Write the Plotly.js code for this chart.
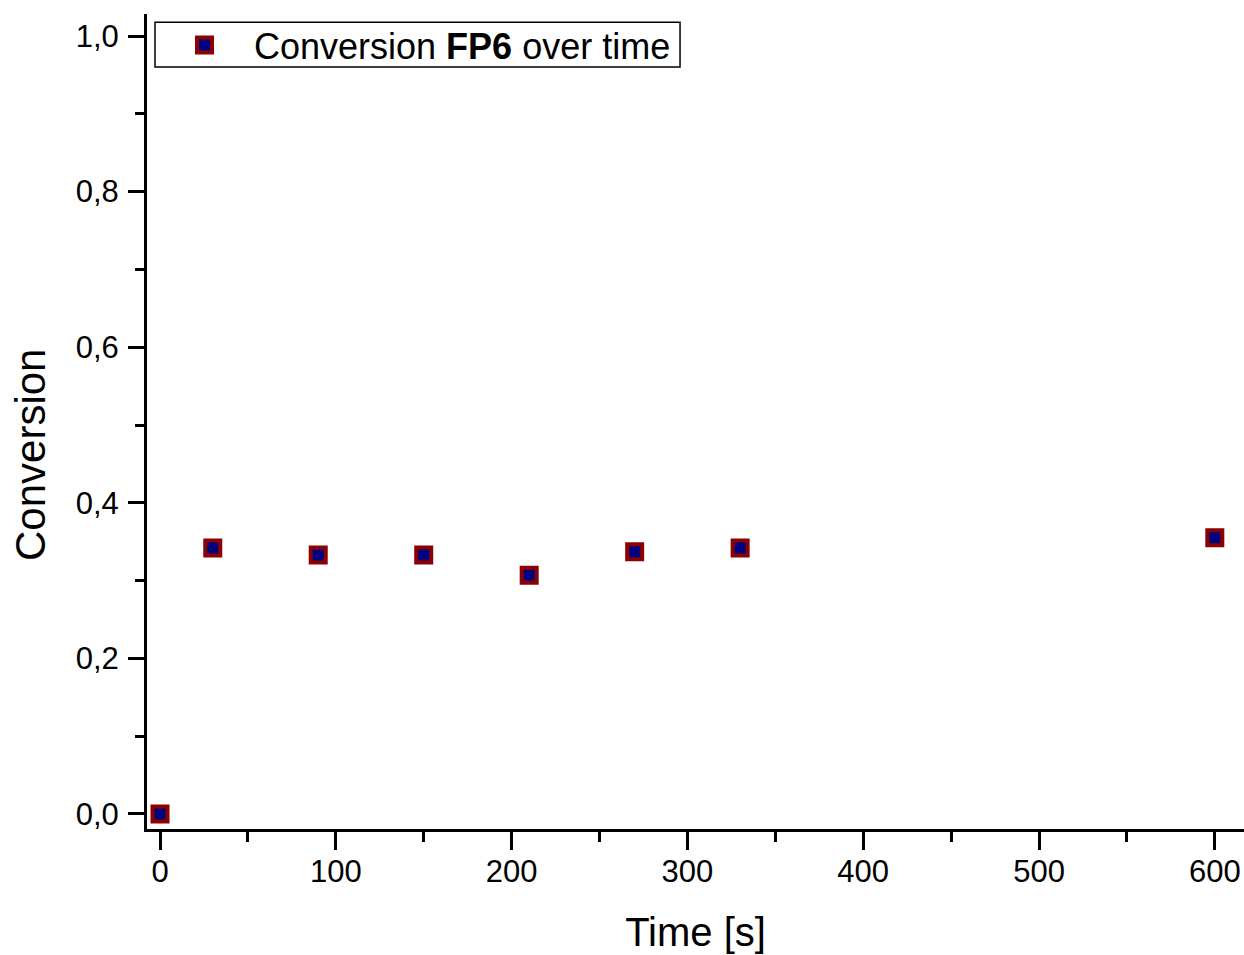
<!DOCTYPE html>
<html>
<head>
<meta charset="utf-8">
<script src="https://cdn.plot.ly/plotly-3.0.1.min.js"></script>
<style>html,body{margin:0;padding:0;background:#fff;}#chart{width:1244px;height:955px;}</style>
</head>
<body>
<div id="chart"></div>
<script>
const timeSeconds = [0, 30, 90, 150, 210, 270, 330, 600];
const conversion = [0, 0.342, 0.333, 0.333, 0.307, 0.337, 0.342, 0.355];
const seriesName = 'Conversion <b>FP6</b> over time';
const xTickVals = [0, 100, 200, 300, 400, 500, 600];
const yTickVals = [0, 0.2, 0.4, 0.6, 0.8, 1.0];
const xTitle = 'Time [s]';
const yTitle = 'Conversion';

const FONT = '"Liberation Sans", Arial, sans-serif';

const trace = {
  x: timeSeconds,
  y: conversion,
  type: 'scatter',
  mode: 'markers',
  name: seriesName,
  marker: {symbol: 'square', size: 15, color: '#000080', line: {color: '#8B0000', width: 4}}
};

const layout = {
  width: 1244, height: 955,
  margin: {l: 147, r: 0, t: 14, b: 126},
  paper_bgcolor: '#ffffff', plot_bgcolor: '#ffffff',
  separators: ', ',
  font: {family: FONT, color: '#000', size: 31},
  showlegend: true,
  legend: {
    x: 0.0073, y: 0.9988, xanchor: 'left', yanchor: 'top',
    bgcolor: 'rgba(0,0,0,0)', borderwidth: 0,
    font: {family: FONT, size: 36, color: '#000'},
    itemwidth: 89
  },
  shapes: [{
    type: 'rect', xref: 'paper', yref: 'paper', layer: 'above',
    x0: 0.00729, x1: 0.4859, y0: 0.935, y1: 0.990,
    line: {color: '#000', width: 1.5}, fillcolor: '#ffffff'
  }],
  annotations: [{
    text: yTitle, xref: 'paper', yref: 'paper',
    x: -0.1057, y: 0.459, xanchor: 'center', yanchor: 'middle',
    textangle: -90, showarrow: false,
    font: {family: FONT, size: 42, color: '#000'}
  }],
  xaxis: {
    range: [-7.4, 616.6], autorange: false,
    tickvals: xTickVals, ticktext: xTickVals.map(v => String(v)),
    ticks: 'outside', ticklen: 18, tickwidth: 3, tickcolor: '#000',
    ticklabelstandoff: -5,
    showline: true, linewidth: 3, linecolor: '#000', mirror: false,
    showgrid: false, zeroline: false,
    tickfont: {family: FONT, size: 31, color: '#000'},
    minor: {dtick: 50, tick0: 0, ticks: 'outside', ticklen: 10, tickwidth: 3, tickcolor: '#000', showgrid: false},
    title: {text: xTitle, font: {family: FONT, size: 40, color: '#000'}, standoff: 30},
    automargin: false
  },
  yaxis: {
    range: [-0.0193, 1.0283], autorange: false,
    tickvals: yTickVals, tickformat: '.1f',
    ticks: 'outside', ticklen: 16, tickwidth: 3, tickcolor: '#000',
    ticklabelstandoff: 3,
    showline: true, linewidth: 3, linecolor: '#000', mirror: false,
    showgrid: false, zeroline: false,
    tickfont: {family: FONT, size: 31, color: '#000'},
    minor: {dtick: 0.1, tick0: 0, ticks: 'outside', ticklen: 9, tickwidth: 3, tickcolor: '#000', showgrid: false},
    automargin: false
  }
};

Plotly.newPlot('chart', [trace], layout, {displayModeBar: false, staticPlot: true});
</script>
</body>
</html>
